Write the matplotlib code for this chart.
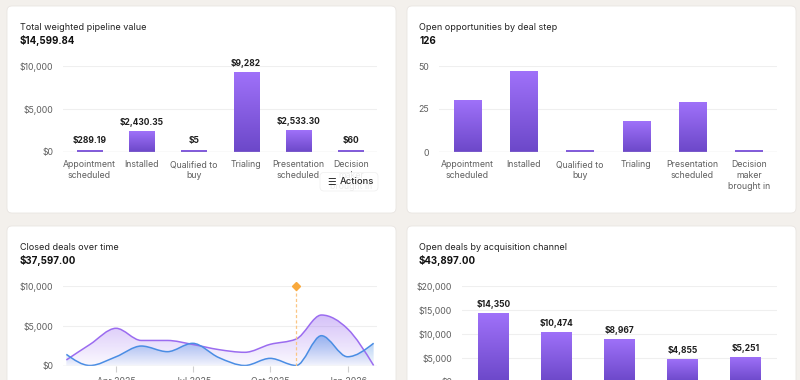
import numpy as np
import matplotlib
matplotlib.use('Agg')
import matplotlib.pyplot as plt
import matplotlib.dates as mdates
from matplotlib.patches import FancyBboxPatch, PathPatch
from matplotlib.path import Path

plt.rcParams['font.family'] = ['Inter', 'DejaVu Sans']

# ---- data ----
steps = ['Appointment\nscheduled', 'Installed', 'Qualified to\nbuy', 'Trialing',
         'Presentation\nscheduled', 'Decision\nmaker\nbrought in']
pipeline_value = [289.19, 2430.35, 5, 9282, 2533.30, 60]
open_opps = [30, 47, 1, 18, 29, 1]

months = ['2025-02-01', '2025-03-01', '2025-04-01', '2025-05-01', '2025-06-01', '2025-07-01',
          '2025-08-01', '2025-09-01', '2025-10-01', '2025-11-01', '2025-12-01', '2026-01-01',
          '2026-02-01']
closed_purple = [700, 2650, 4680, 3150, 3150, 2650, 2000, 1660, 2660, 3330, 6350, 4617, 0]
closed_blue = [1400, 0, 1100, 2450, 1740, 2790, 1000, 0, 900, 0, 3750, 1100, 2800]
marker_date = '2025-11-01'
marker_value = 10000
date_ticks = ['2025-04-01', '2025-07-01', '2025-10-01', '2026-01-01']

channel_value = [14350, 10474, 8967, 4855, 5251]

# ---- style ----
BG = '#f3f0ec'
CARD = '#ffffff'
GRID = '#efefef'
BASE = '#dcdcdc'
TICK = '#5f5f5f'
BAR_TOP = np.array([0x9f, 0x71, 0xf9]) / 255
BAR_BOT = np.array([0x6c, 0x48, 0xc9]) / 255
PURPLE = '#9b6cf0'
BLUE = '#4a8de4'

W, H = 800, 380
fig = plt.figure(figsize=(W / 100, H / 100), dpi=100, facecolor=BG)


def card(x0, y0, x1, y1):
    p = FancyBboxPatch((x0 / 100, (H - y1) / 100), (x1 - x0) / 100, (y1 - y0) / 100,
                       boxstyle='round,pad=0,rounding_size=0.05', transform=fig.dpi_scale_trans,
                       facecolor=CARD, edgecolor='#e9e5e1', linewidth=0.6, zorder=-5)
    fig.patches.append(p)


def header(x, y, title, value):
    fig.text(x / W, 1 - y / H, title, fontsize=6.5, color='#222222', va='center', ha='left')
    fig.text(x / W, 1 - (y + 13) / H, value, fontsize=7, color='#111111',
             fontweight='bold', va='center', ha='left')


def axes_px(left, top, right, bottom):
    ax = fig.add_axes([left / W, 1 - bottom / H, (right - left) / W, (bottom - top) / H])
    ax.set_facecolor('none')
    for s in ax.spines.values():
        s.set_visible(False)
    ax.tick_params(axis='y', length=0, labelsize=6.3, labelcolor=TICK, pad=7)
    ax.tick_params(axis='x', length=0, labelsize=6.3, labelcolor=TICK)
    ax.grid(axis='y', color=GRID, linewidth=0.8)
    ax.set_axisbelow(True)
    return ax


def money(v):
    if float(v).is_integer():
        return '${:,.0f}'.format(v)
    return '${:,.2f}'.format(v)


def gradient_bars(ax, values, ymax, px_height, labels=False):
    min_h = ymax * 2.5 / px_height
    bars = ax.bar(range(len(values)), [max(v, min_h) for v in values], width=0.48,
                  color='none', edgecolor='none')
    grad = np.zeros((64, 1, 3))
    for k in range(64):
        t = k / 63
        grad[k, 0] = BAR_BOT * (1 - t) + BAR_TOP * t
    for b in bars:
        x0, w, h = b.get_x(), b.get_width(), b.get_height()
        im = ax.imshow(grad, extent=[x0, x0 + w, 0, h], origin='lower', aspect='auto',
                       interpolation='bilinear', zorder=2)
        im.set_clip_path(b)
    if labels:
        for i, v in enumerate(values):
            ax.annotate(money(v), (i, max(v, min_h)), xytext=(0, 3), textcoords='offset points',
                        ha='center', va='bottom', fontsize=6.1, fontweight='bold',
                        color='#1f1f1f', zorder=4)
    ax.axhline(0, color=BASE, linewidth=0.9, zorder=3)
    ax.set_xlim(-0.5, len(values) - 0.5)
    ax.set_ylim(0, ymax)


def monotone_path(x, y, close=False):
    x = np.asarray(x, float)
    y = np.asarray(y, float)
    h = np.diff(x)
    s = np.diff(y) / h
    m = np.zeros(len(x))
    for i in range(1, len(x) - 1):
        p = (s[i - 1] * h[i] + s[i] * h[i - 1]) / (h[i - 1] + h[i])
        m[i] = (np.sign(s[i - 1]) + np.sign(s[i])) * min(abs(s[i - 1]), abs(s[i]), 0.5 * abs(p))
    m[0] = (3 * s[0] - m[1]) / 2
    m[-1] = (3 * s[-1] - m[-2]) / 2
    verts = [(x[0], y[0])]
    codes = [Path.MOVETO]
    for i in range(len(x) - 1):
        d = h[i] / 3
        verts += [(x[i] + d, y[i] + m[i] * d), (x[i + 1] - d, y[i + 1] - m[i + 1] * d),
                  (x[i + 1], y[i + 1])]
        codes += [Path.CURVE4] * 3
    if close:
        verts += [(x[-1], 0), (x[0], 0), (x[0], 0)]
        codes += [Path.LINETO, Path.LINETO, Path.CLOSEPOLY]
    return Path(verts, codes)


def area(ax, x, y, color, a_top, a_bot):
    rgb = matplotlib.colors.to_rgb(color)
    g = np.zeros((64, 1, 4))
    g[:, 0, :3] = rgb
    g[:, 0, 3] = np.linspace(a_bot, a_top, 64)
    fill = PathPatch(monotone_path(x, y, close=True), transform=ax.transData,
                     facecolor='none', edgecolor='none')
    ax.add_patch(fill)
    im = ax.imshow(g, extent=[x[0], x[-1], 0, max(y)], origin='lower', aspect='auto',
                   interpolation='bilinear', zorder=1)
    im.set_clip_path(fill)
    ax.add_patch(PathPatch(monotone_path(x, y), transform=ax.transData, facecolor='none',
                           edgecolor=color, linewidth=1.1, zorder=3))


# ---- cards ----
card(7, 6, 396, 213)
card(407, 6, 796, 213)
card(7, 226, 396, 420)
card(407, 226, 796, 420)

header(20, 27.5, 'Total weighted pipeline value', '$14,599.84')
header(419, 27.5, 'Open opportunities by deal step', '126')
header(20, 248, 'Closed deals over time', '$37,597.00')
header(419, 248, 'Open deals by acquisition channel', '$43,897.00')

# ---- top left ----
ax1 = axes_px(63, 66, 377, 152)
gradient_bars(ax1, pipeline_value, 10000, 86, labels=True)
ax1.set_yticks([0, 5000, 10000])
ax1.set_yticklabels(['$0', '$5,000', '$10,000'])
ax1.set_xticks(range(len(steps)))
ax1.set_xticklabels(steps, linespacing=1.25)
ax1.tick_params(axis='x', pad=6)

# ---- top right ----
ax2 = axes_px(439, 66, 777, 152)
gradient_bars(ax2, open_opps, 50, 86)
ax2.set_yticks([0, 25, 50])
ax2.set_xticks(range(len(steps)))
ax2.set_xticklabels(steps, linespacing=1.25)
ax2.tick_params(axis='x', pad=6)

# ---- bottom left ----
ax3 = axes_px(63, 286, 377, 365.5)
xd = mdates.date2num(np.array(months, dtype='datetime64[D]'))
area(ax3, xd, closed_purple, PURPLE, 0.42, 0.04)
area(ax3, xd, closed_blue, BLUE, 0.5, 0.04)
md = mdates.date2num(np.datetime64(marker_date))
ax3.plot([md, md], [0, marker_value], color='#fbc684', linewidth=0.9, dashes=(2.5, 1.8), zorder=4)
ax3.plot([md], [marker_value], marker='D', markersize=3.6, color='#f9a93c', zorder=5,
         clip_on=False)
ax3.axhline(0, color=BASE, linewidth=0.9, zorder=3)
ax3.set_xlim(xd[0] - 4, xd[-1] + 4)
ax3.set_ylim(0, 10000)
ax3.set_yticks([0, 5000, 10000])
ax3.set_yticklabels(['$0', '$5,000', '$10,000'])
tk = mdates.date2num(np.array(date_ticks, dtype='datetime64[D]'))
ax3.set_xticks(tk)
ax3.set_xticklabels(['Apr 2025', 'Jul 2025', 'Oct 2025', 'Jan 2026'])
ax3.tick_params(axis='x', length=4.5, width=0.8, color='#cfcfcf', pad=4)

# ---- bottom right ----
ax4 = axes_px(462, 286, 777, 382)
gradient_bars(ax4, channel_value, 20000, 96, labels=True)
ax4.set_yticks([0, 5000, 10000, 15000, 20000])
ax4.set_yticklabels(['$0', '$5,000', '$10,000', '$15,000', '$20,000'])
ax4.set_xticks([])

# ---- actions button ----
btn = FancyBboxPatch((320 / 100, (H - 191) / 100), 58 / 100, 18.5 / 100,
                     boxstyle='round,pad=0,rounding_size=0.04', transform=fig.dpi_scale_trans,
                     facecolor='white', edgecolor='#ececec', linewidth=0.5, alpha=0.88, zorder=10)
fig.patches.append(btn)
fig.text(327 / W, 1 - 182 / H, '\u2630', fontsize=7, color='#333333', va='center', ha='left',
         family=['DejaVu Sans'], zorder=11)
fig.text(340 / W, 1 - 182 / H, 'Actions', fontsize=6.8, color='#2a2a2a', va='center', ha='left',
         fontweight='medium', zorder=11)

fig.savefig('out.png', dpi=100, facecolor=BG)
